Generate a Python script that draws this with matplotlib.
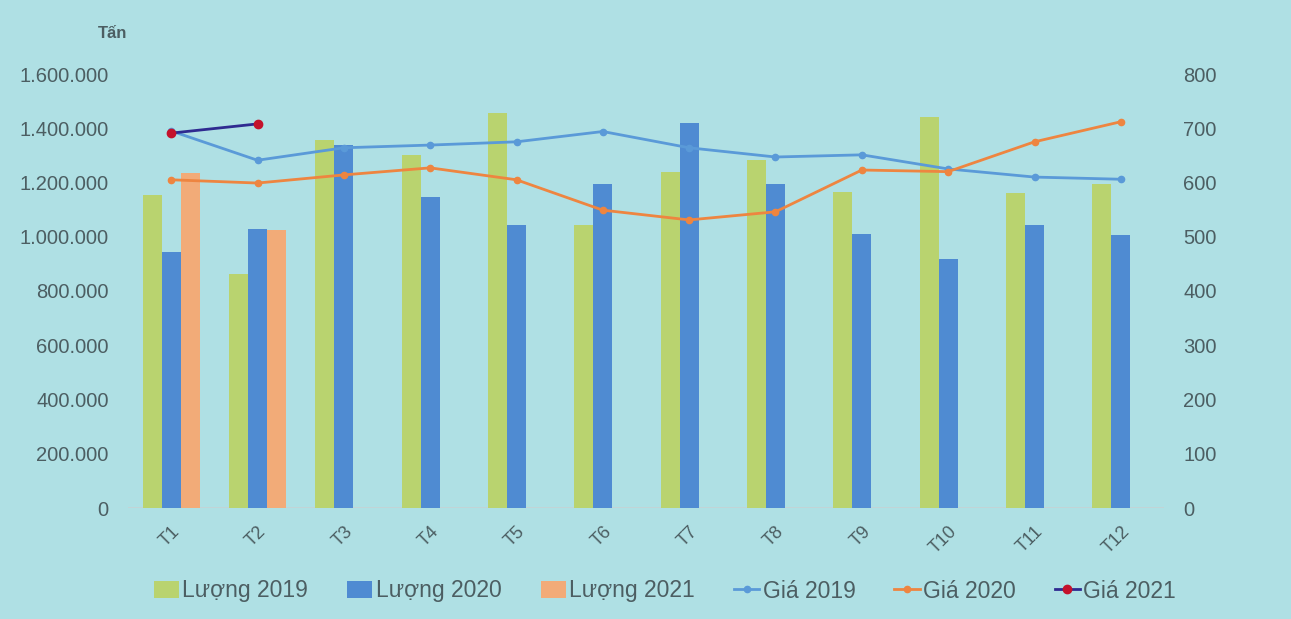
import matplotlib
matplotlib.use("Agg")
import matplotlib.pyplot as plt
import numpy as np

months = ["T1", "T2", "T3", "T4", "T5", "T6", "T7", "T8", "T9", "T10", "T11", "T12"]
luong_2019 = [1155000, 862000, 1357000, 1301000, 1456000, 1043000, 1239000, 1283000, 1165000, 1440000, 1161000, 1195000]
luong_2020 = [944000, 1028000, 1338000, 1147000, 1043000, 1194000, 1419000, 1194000, 1010000, 918000, 1043000, 1006000]
luong_2021 = [1235000, 1025000]
gia_2019 = [695, 641, 664, 669, 675, 694, 664, 647, 651, 625, 610, 606]
gia_2020 = [605, 599, 614, 627, 605, 549, 531, 546, 623, 620, 675, 712]
gia_2021 = [691, 708]

left_ticks = [0, 200000, 400000, 600000, 800000, 1000000, 1200000, 1400000, 1600000]
right_ticks = [0, 100, 200, 300, 400, 500, 600, 700, 800]

bg = "#afe0e4"
txt = "#4c5e62"
c19 = "#b9d36f"
c20 = "#4f8bd2"
c21 = "#f2ab78"
l19 = "#5a9ad8"
l20 = "#ee8540"
l21 = "#2f2a90"
m21 = "#c4122b"

plt.rcParams['font.family'] = ['Liberation Sans', 'DejaVu Sans']

fig = plt.figure(figsize=(12.91, 6.19), dpi=100, facecolor=bg)
W, H = 1291, 619
x0, x1, ytop, ybot = 128, 1164, 74, 508
ax = fig.add_axes([x0 / W, (H - ybot) / H, (x1 - x0) / W, (ybot - ytop) / H])
ax.set_facecolor(bg)
ax2 = ax.twinx()

x = np.arange(len(months))
bw = 0.22
b1 = ax.bar(x - bw, luong_2019, width=bw, color=c19, label="Lượng 2019", zorder=2)
b2 = ax.bar(x, luong_2020, width=bw, color=c20, label="Lượng 2020", zorder=2)
b3 = ax.bar(x[:len(luong_2021)] + bw, luong_2021, width=bw, color=c21, label="Lượng 2021", zorder=2)

ln1, = ax2.plot(x, gia_2019, color=l19, lw=2, marker="o", ms=4.5, label="Giá 2019", zorder=3)
ln2, = ax2.plot(x, gia_2020, color=l20, lw=2, marker="o", ms=4.5, label="Giá 2020", zorder=3)
ln3, = ax2.plot(x[:len(gia_2021)], gia_2021, color=l21, lw=2, marker="o", ms=6,
                mfc=m21, mec=m21, label="Giá 2021", zorder=4)

ax.set_xlim(-0.5, len(months) - 0.5)
ax.set_ylim(0, 1600000)
ax2.set_ylim(0, 800)
ax.set_yticks(left_ticks)
ax.set_yticklabels([f"{v:,}".replace(",", ".") for v in left_ticks], fontsize=14.5, color=txt)
ax2.set_yticks(right_ticks)
ax2.set_yticklabels([str(v) for v in right_ticks], fontsize=14.5, color=txt)
ax.set_xticks(x)
ax.set_xticklabels(months, rotation=45, ha="right", rotation_mode="anchor", fontsize=13, color=txt)

for a in (ax, ax2):
    for s in ("top", "left", "right", "bottom"):
        a.spines[s].set_visible(False)
    a.tick_params(length=0)
ax.tick_params(axis="y", pad=14)
ax2.tick_params(axis="y", pad=14)
ax.tick_params(axis="x", pad=11)
ax.axhline(0, color="#c5d2d4", lw=1.2, zorder=1)

fig.text(98 / W, 1 - 33 / H, "Tấn", fontsize=12, fontweight="bold", color=txt, va="center", ha="left")

handles = [b1, b2, b3, ln1, ln2, ln3]
labels = [h.get_label() for h in handles]
leg = fig.legend(handles, labels, loc="center", bbox_to_anchor=(665 / W, 1 - 591 / H), ncol=6,
                 frameon=False, fontsize=16.5, handlelength=1.1, handletextpad=0.15, columnspacing=1.7,
                 labelcolor=txt)

fig.savefig("out.png", dpi=100, facecolor=bg)
